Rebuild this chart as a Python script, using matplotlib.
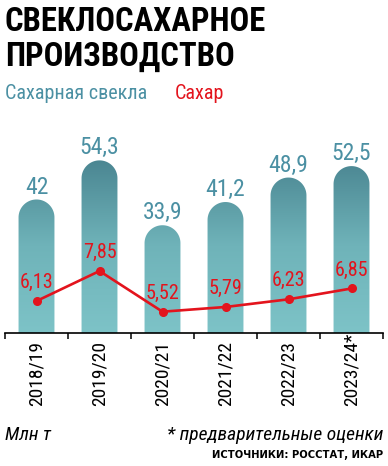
import matplotlib
matplotlib.use('Agg')
import matplotlib.pyplot as plt
import numpy as np
from matplotlib import font_manager as fm
from matplotlib.patches import PathPatch
from matplotlib.path import Path
from matplotlib.colors import LinearSegmentedColormap
import matplotlib.transforms as mtransforms

seasons = ["2018/19", "2019/20", "2020/21", "2021/22", "2022/23", "2023/24*"]
beet = [42, 54.3, 33.9, 41.2, 48.9, 52.5]
sugar = [6.13, 7.85, 5.52, 5.79, 6.23, 6.85]
beet_labels = ["42", "54,3", "33,9", "41,2", "48,9", "52,5"]
sugar_labels = ["6,13", "7,85", "5,52", "5,79", "6,23", "6,85"]

names = {f.name for f in fm.fontManager.ttflist}
cands = ["Roboto Condensed", "PT Sans Narrow", "Open Sans Condensed"]
narrow = next((n for n in cands if n in names), "Liberation Sans")

W, H = 388, 466
fig = plt.figure(figsize=(W / 100, H / 100), dpi=100)
fig.patch.set_facecolor('white')

def fy(px):
    return 1 - px / H

ax_bottom_px, ax_top_px = 333, 120
ax = fig.add_axes([5 / W, fy(ax_bottom_px), 378 / W, (ax_bottom_px - ax_top_px) / H])
ax.set_xlim(-0.5, 5.5)
ax.set_ylim(0, 67)

BLUE_T = '#4b90a3'
RED = '#e3141d'

# rounded gradient bars
w = 0.57
p0 = ax.transData.transform((0, 0))
p1 = ax.transData.transform((1, 1))
px_x, px_y = p1[0] - p0[0], p1[1] - p0[1]
ry = (w / 2) * px_x / px_y
cmap = LinearSegmentedColormap.from_list('g', ['#7dc3c7', '#6fb3b9', '#4a8591'])
grad = np.linspace(0, 1, 256).reshape(-1, 1)
theta = np.linspace(0, np.pi, 80)
for i, v in enumerate(beet):
    x0, x1 = i - w / 2, i + w / 2
    top = v - ry
    verts = [(x0, 0), (x1, 0), (x1, top)]
    verts += list(zip(i + (w / 2) * np.cos(theta), top + ry * np.sin(theta)))
    verts += [(x0, 0)]
    codes = [Path.MOVETO] + [Path.LINETO] * (len(verts) - 2) + [Path.CLOSEPOLY]
    patch = PathPatch(Path(verts, codes), facecolor='none', edgecolor='none')
    ax.add_patch(patch)
    im = ax.imshow(grad, extent=[-0.5, 5.5, 0, 55], origin='lower', cmap=cmap,
                   aspect='auto', interpolation='bilinear')
    im.set_clip_path(patch)
    ax.annotate(beet_labels[i], (i, v), xytext=(0, 4.3), textcoords='offset points',
                ha='center', va='baseline', fontsize=17, family=narrow, color=BLUE_T)

ax.set_xlim(-0.5, 5.5)
ax.set_ylim(0, 67)

for s in ['top', 'left', 'right']:
    ax.spines[s].set_visible(False)
ax.spines['bottom'].set_linewidth(1.2)
ax.set_yticks([])
ax.set_xticks(range(len(seasons)))
ax.set_xticklabels([])
ax.tick_params(axis='x', which='major', length=0)
ax.set_xticks(np.arange(-0.5, 6, 1), minor=True)
ax.tick_params(axis='x', which='minor', direction='out', length=4, width=1.1)

lab_tr = mtransforms.blended_transform_factory(ax.transData, ax.transAxes)
for i, s in enumerate(seasons):
    ax.text(i, -(406 - ax_bottom_px) / (ax_bottom_px - ax_top_px), s, rotation=90,
            ha='center', va='bottom', fontsize=14, family=narrow, transform=lab_tr)

ax2 = ax.twinx()
ax2.set_ylim(4.30, 16.5)
ax2.set_axis_off()
ax2.plot(range(len(sugar)), sugar, color=RED, lw=1.9, marker='o', ms=5.5)
for i, v in enumerate(sugar):
    ax2.annotate(sugar_labels[i], (i, v), xytext=(0, 9.4), textcoords='offset points',
                 ha='center', va='baseline', fontsize=14.5, family=narrow, color=RED)

fig.text(5 / W, fy(31), 'СВЕКЛОСАХАРНОЕ', fontsize=23.5, weight='bold', family=narrow, va='baseline')
fig.text(5 / W, fy(66), 'ПРОИЗВОДСТВО', fontsize=23.5, weight='bold', family=narrow, va='baseline')
fig.text(5 / W, fy(99), 'Сахарная свекла', fontsize=14.5, family=narrow, color=BLUE_T, va='baseline')
fig.text(175 / W, fy(99), 'Сахар', fontsize=14.5, family=narrow, color=RED, va='baseline')
fig.text(5 / W, fy(440), 'Млн т', fontsize=14, family=narrow, style='italic', va='baseline')
fig.text(383 / W, fy(440), '* предварительные оценки', fontsize=14, family=narrow, style='italic',
         va='baseline', ha='right')
fig.text(383 / W, fy(458), 'ИСТОЧНИКИ: РОССТАТ, ИКАР', fontsize=7.2, family='DejaVu Sans',
         weight='bold', va='baseline', ha='right')

fig.savefig('out.png', dpi=100, facecolor='white')
